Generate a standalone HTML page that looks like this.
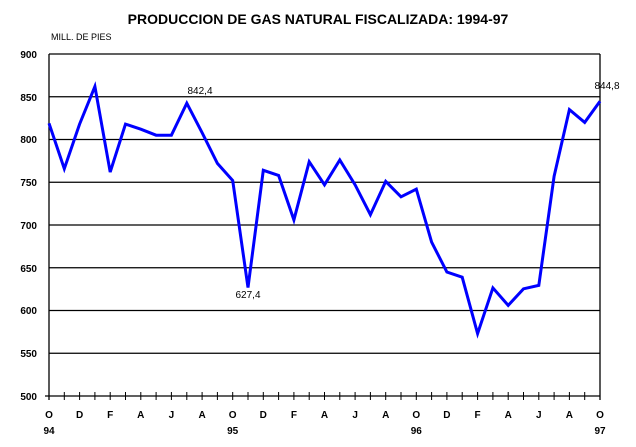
<!DOCTYPE html>
<html><head><meta charset="utf-8"><style>body{margin:0;background:#fff}svg{display:block}</style></head>
<body>
<svg width="636" height="447" xmlns="http://www.w3.org/2000/svg" font-family="Liberation Sans, sans-serif">
<text x="318" y="24" text-anchor="middle" font-size="14" font-weight="bold">PRODUCCION DE GAS NATURAL FISCALIZADA: 1994-97</text>
<text x="51" y="40" font-size="9">MILL. DE PIES</text>
<g stroke="#000" stroke-width="1.3">
<line x1="49" y1="54" x2="600" y2="54"/><line x1="49" y1="96.75" x2="600" y2="96.75"/><line x1="49" y1="139.5" x2="600" y2="139.5"/><line x1="49" y1="182.25" x2="600" y2="182.25"/><line x1="49" y1="225" x2="600" y2="225"/><line x1="49" y1="267.75" x2="600" y2="267.75"/><line x1="49" y1="310.5" x2="600" y2="310.5"/><line x1="49" y1="353.25" x2="600" y2="353.25"/><line x1="45" y1="396" x2="600" y2="396"/>
<line x1="49" y1="54" x2="49" y2="400"/><line x1="600" y1="54" x2="600" y2="400"/>
</g>
<path stroke="#000" stroke-width="1" d="M64.3 392v8M79.6 392v8M94.9 392v8M110.2 392v8M125.5 392v8M140.8 392v8M156.1 392v8M171.4 392v8M186.8 392v8M202.1 392v8M217.4 392v8M232.7 392v8M248 392v8M263.3 392v8M278.6 392v8M293.9 392v8M309.2 392v8M324.5 392v8M339.8 392v8M355.1 392v8M370.4 392v8M385.7 392v8M401 392v8M416.3 392v8M431.6 392v8M446.9 392v8M462.2 392v8M477.6 392v8M492.9 392v8M508.2 392v8M523.5 392v8M538.8 392v8M554.1 392v8M569.4 392v8M584.7 392v8"/>
<g font-size="10" font-weight="bold" text-anchor="end">
<text x="37" y="58">900</text><text x="37" y="101">850</text><text x="37" y="143">800</text><text x="37" y="186">750</text><text x="37" y="229">700</text><text x="37" y="272">650</text><text x="37" y="314">600</text><text x="37" y="357">550</text><text x="37" y="400">500</text>
</g>
<g font-size="10" font-weight="bold" text-anchor="middle">
<text x="49" y="418">O</text><text x="79.6" y="418">D</text><text x="110.2" y="418">F</text><text x="140.8" y="418">A</text><text x="171.4" y="418">J</text><text x="202.1" y="418">A</text><text x="232.7" y="418">O</text><text x="263.3" y="418">D</text><text x="293.9" y="418">F</text><text x="324.5" y="418">A</text><text x="355.1" y="418">J</text><text x="385.7" y="418">A</text><text x="416.3" y="418">O</text><text x="446.9" y="418">D</text><text x="477.6" y="418">F</text><text x="508.2" y="418">A</text><text x="538.8" y="418">J</text><text x="569.4" y="418">A</text><text x="600" y="418">O</text>
<text x="49" y="434">94</text><text x="232.7" y="434">95</text><text x="416.3" y="434">96</text><text x="600" y="434">97</text>
</g>
<polyline fill="none" stroke="#0000ff" stroke-width="3" points="49,123.3 64.3,168.7 79.6,124.1 94.9,86.5 110.2,172.1 125.5,124.1 140.8,129.2 156.1,135.2 171.4,135.2 186.8,103.2 202.1,132.7 217.4,163.4 232.7,180.5 248,287.6 263.3,170.3 278.6,175.4 293.9,219.9 309.2,161.7 324.5,184.8 339.8,160 355.1,184.8 370.4,214.7 385.7,181.4 401,196.8 416.3,189.1 431.6,242.1 446.9,272 462.2,277.2 477.6,333.6 492.9,287.9 508.2,305.4 523.5,288.8 538.8,285.4 554.1,176.3 569.4,109.6 584.7,122.4 600,101.2"/>
<g font-size="10" text-anchor="middle">
<text x="200" y="94">842,4</text><text x="248" y="298">627,4</text><text x="607" y="89">844,8</text>
</g>
</svg>
</body></html>
